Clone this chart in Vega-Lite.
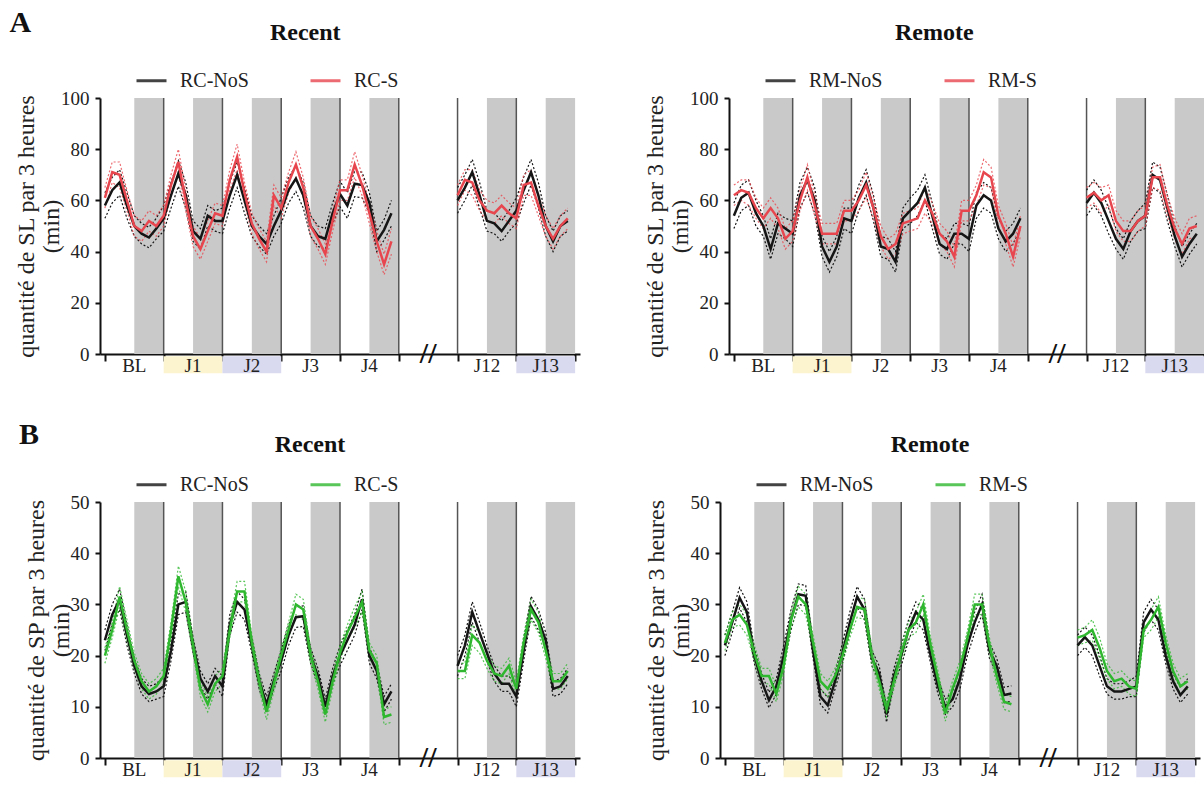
{
"$schema":"https://vega.github.io/schema/vega-lite/v6.json",
"padding":{"left":9,"top":8,"right":0,"bottom":0},
"config":{"font":"Liberation Serif","view":{"stroke":null},
"axis":{"domainColor":"#111","domainWidth":2,"tickColor":"#111","tickWidth":2,"labelFont":"Liberation Serif","labelFontSize":19,"labelColor":"#222","grid":false,"titleFont":"Liberation Serif","titleFontSize":24,"titleFontWeight":"normal","titleColor":"#222"},
"axisX":{"labels":false,"tickSize":7},
"axisY":{"tickSize":5,"labelPadding":6,"titlePadding":-3,"titleLineHeight":25},
"title":{"font":"Liberation Serif","fontWeight":"bold","color":"#111"},
"legend":{"direction":"horizontal","symbolType":"stroke","symbolSize":900,"symbolStrokeWidth":3,"labelFont":"Liberation Serif","labelFontSize":20,"labelColor":"#222","columnPadding":55,"labelOffset":12}},
"datasets":{
"days":[{"lab":"BL","a":0,"c":12,"b":24},{"lab":"J1","a":24,"c":36,"b":48},{"lab":"J2","a":48,"c":60,"b":72},{"lab":"J3","a":72,"c":84,"b":96},{"lab":"J4","a":96,"c":108,"b":120},{"lab":"//","a":120,"c":132,"b":144},{"lab":"J12","a":144,"c":156,"b":168},{"lab":"J13","a":168,"c":180,"b":192}],
"AR":[
{"k":1,"t":0,"a":58,"ae":5,"b":61,"be":4},{"k":1,"t":3,"a":64,"ae":5,"b":71,"be":4},{"k":1,"t":6,"a":67,"ae":5,"b":70,"be":5},{"k":1,"t":9,"a":58,"ae":5,"b":60,"be":4},{"k":1,"t":12,"a":50,"ae":4,"b":50,"be":4},{"k":1,"t":15,"a":47,"ae":4,"b":48,"be":4},{"k":1,"t":18,"a":45.5,"ae":4,"b":52,"be":4},{"k":1,"t":21,"a":49,"ae":4,"b":50,"be":4},
{"k":1,"t":24,"a":53,"ae":5,"b":54,"be":4},{"k":1,"t":27,"a":62,"ae":5,"b":66,"be":4},{"k":1,"t":30,"a":70.5,"ae":5,"b":75,"be":5},{"k":1,"t":33,"a":62,"ae":5,"b":60,"be":4},{"k":1,"t":36,"a":48,"ae":4,"b":46,"be":4},{"k":1,"t":39,"a":45,"ae":4,"b":41,"be":4},{"k":1,"t":42,"a":54,"ae":4,"b":48,"be":4},{"k":1,"t":45,"a":52,"ae":4,"b":55,"be":4},
{"k":1,"t":48,"a":52,"ae":5,"b":54,"be":4},{"k":1,"t":51,"a":62,"ae":5,"b":68,"be":4},{"k":1,"t":54,"a":70,"ae":5,"b":77,"be":5},{"k":1,"t":57,"a":60,"ae":5,"b":63,"be":4},{"k":1,"t":60,"a":50,"ae":4,"b":51,"be":4},{"k":1,"t":63,"a":46,"ae":4,"b":45,"be":4},{"k":1,"t":66,"a":43,"ae":4,"b":40,"be":4},{"k":1,"t":69,"a":50,"ae":4,"b":62,"be":4},
{"k":1,"t":72,"a":56,"ae":5,"b":57,"be":4},{"k":1,"t":75,"a":64,"ae":5,"b":67,"be":4},{"k":1,"t":78,"a":68.5,"ae":5,"b":74,"be":5},{"k":1,"t":81,"a":62,"ae":5,"b":65,"be":4},{"k":1,"t":84,"a":50,"ae":4,"b":50,"be":4},{"k":1,"t":87,"a":46,"ae":4,"b":45,"be":4},{"k":1,"t":90,"a":45,"ae":4,"b":39,"be":4},{"k":1,"t":93,"a":55,"ae":4,"b":52,"be":4},
{"k":1,"t":96,"a":62.5,"ae":5,"b":64,"be":4},{"k":1,"t":99,"a":58,"ae":5,"b":64,"be":4},{"k":1,"t":102,"a":66.5,"ae":5,"b":74,"be":5},{"k":1,"t":105,"a":66,"ae":5,"b":66,"be":4},{"k":1,"t":108,"a":59,"ae":4,"b":55,"be":4},{"k":1,"t":111,"a":44,"ae":4,"b":44,"be":4},{"k":1,"t":114,"a":48.5,"ae":4,"b":35,"be":4},{"k":1,"t":117,"a":55,"ae":5,"b":44,"be":5},
{"k":2,"t":144,"a":60,"ae":5,"b":62,"be":4},{"k":2,"t":147,"a":65,"ae":5,"b":68,"be":4},{"k":2,"t":150,"a":71,"ae":5,"b":67,"be":5},{"k":2,"t":153,"a":62,"ae":5,"b":60,"be":4},{"k":2,"t":156,"a":52,"ae":4,"b":56,"be":4},{"k":2,"t":159,"a":51,"ae":4,"b":55,"be":4},{"k":2,"t":162,"a":48,"ae":4,"b":58,"be":4},{"k":2,"t":165,"a":52,"ae":4,"b":55,"be":4},
{"k":2,"t":168,"a":56,"ae":5,"b":53,"be":4},{"k":2,"t":171,"a":64,"ae":5,"b":66,"be":4},{"k":2,"t":174,"a":71,"ae":5,"b":67,"be":5},{"k":2,"t":177,"a":62,"ae":5,"b":58,"be":4},{"k":2,"t":180,"a":50,"ae":4,"b":50,"be":4},{"k":2,"t":183,"a":44,"ae":4,"b":45,"be":4},{"k":2,"t":186,"a":50,"ae":4,"b":50,"be":4},{"k":2,"t":189,"a":52,"ae":4,"b":53,"be":4}],
"AM":[
{"k":1,"t":0,"a":54,"ae":5,"b":62,"be":4},{"k":1,"t":3,"a":61,"ae":5,"b":64,"be":4},{"k":1,"t":6,"a":63,"ae":5,"b":63,"be":5},{"k":1,"t":9,"a":55,"ae":5,"b":57,"be":4},{"k":1,"t":12,"a":50,"ae":4,"b":53,"be":4},{"k":1,"t":15,"a":41,"ae":4,"b":57,"be":4},{"k":1,"t":18,"a":51,"ae":4,"b":53,"be":4},{"k":1,"t":21,"a":49,"ae":4,"b":45,"be":4},
{"k":1,"t":24,"a":47,"ae":5,"b":48,"be":4},{"k":1,"t":27,"a":62,"ae":5,"b":60,"be":4},{"k":1,"t":30,"a":68,"ae":5,"b":69,"be":5},{"k":1,"t":33,"a":60,"ae":5,"b":58,"be":4},{"k":1,"t":36,"a":42,"ae":4,"b":47,"be":4},{"k":1,"t":39,"a":36,"ae":4,"b":47,"be":4},{"k":1,"t":42,"a":42,"ae":4,"b":47,"be":4},{"k":1,"t":45,"a":53,"ae":4,"b":56,"be":4},
{"k":1,"t":48,"a":52,"ae":5,"b":56,"be":4},{"k":1,"t":51,"a":61,"ae":5,"b":60,"be":4},{"k":1,"t":54,"a":67,"ae":5,"b":66,"be":5},{"k":1,"t":57,"a":57,"ae":5,"b":57,"be":4},{"k":1,"t":60,"a":42,"ae":4,"b":46,"be":4},{"k":1,"t":63,"a":41,"ae":4,"b":41,"be":4},{"k":1,"t":66,"a":36,"ae":4,"b":43,"be":4},{"k":1,"t":69,"a":53,"ae":4,"b":51,"be":4},
{"k":1,"t":72,"a":56,"ae":5,"b":52,"be":4},{"k":1,"t":75,"a":59,"ae":5,"b":53,"be":4},{"k":1,"t":78,"a":65,"ae":5,"b":60,"be":5},{"k":1,"t":81,"a":54,"ae":5,"b":55,"be":4},{"k":1,"t":84,"a":43,"ae":4,"b":47,"be":4},{"k":1,"t":87,"a":41,"ae":4,"b":44,"be":4},{"k":1,"t":90,"a":47,"ae":4,"b":38,"be":4},{"k":1,"t":93,"a":47,"ae":4,"b":56,"be":4},
{"k":1,"t":96,"a":45,"ae":5,"b":56,"be":4},{"k":1,"t":99,"a":58,"ae":5,"b":62,"be":4},{"k":1,"t":102,"a":62,"ae":5,"b":71,"be":5},{"k":1,"t":105,"a":60,"ae":5,"b":69,"be":4},{"k":1,"t":108,"a":49,"ae":4,"b":54,"be":4},{"k":1,"t":111,"a":44,"ae":4,"b":47,"be":4},{"k":1,"t":114,"a":47,"ae":4,"b":38,"be":4},{"k":1,"t":117,"a":53,"ae":4,"b":50,"be":4},
{"k":2,"t":144,"a":59,"ae":5,"b":61,"be":4},{"k":2,"t":147,"a":63,"ae":5,"b":63,"be":4},{"k":2,"t":150,"a":59,"ae":5,"b":60,"be":5},{"k":2,"t":153,"a":52,"ae":5,"b":62,"be":4},{"k":2,"t":156,"a":45,"ae":4,"b":52,"be":4},{"k":2,"t":159,"a":41,"ae":4,"b":48,"be":4},{"k":2,"t":162,"a":48,"ae":4,"b":48,"be":4},{"k":2,"t":165,"a":52,"ae":4,"b":52,"be":4},
{"k":2,"t":168,"a":54,"ae":5,"b":54,"be":4},{"k":2,"t":171,"a":70,"ae":5,"b":69,"be":4},{"k":2,"t":174,"a":68,"ae":5,"b":69,"be":5},{"k":2,"t":177,"a":57,"ae":5,"b":58,"be":4},{"k":2,"t":180,"a":46,"ae":4,"b":49,"be":4},{"k":2,"t":183,"a":38,"ae":4,"b":43,"be":4},{"k":2,"t":186,"a":43,"ae":4,"b":49,"be":4},{"k":2,"t":189,"a":47,"ae":4,"b":50,"be":4}],
"BR":[
{"k":1,"t":0,"a":23,"ae":2,"b":20,"be":1.5},{"k":1,"t":3,"a":28,"ae":2,"b":25,"be":1.5},{"k":1,"t":6,"a":31,"ae":2,"b":31.5,"be":2},{"k":1,"t":9,"a":24,"ae":2,"b":25,"be":2},{"k":1,"t":12,"a":18,"ae":1.5,"b":19,"be":1.5},{"k":1,"t":15,"a":14,"ae":1.5,"b":15,"be":1.5},{"k":1,"t":18,"a":12.5,"ae":1.5,"b":13,"be":1.5},{"k":1,"t":21,"a":13,"ae":1.5,"b":14,"be":1.5},
{"k":1,"t":24,"a":14,"ae":2,"b":16,"be":1.5},{"k":1,"t":27,"a":21,"ae":2,"b":25,"be":1.5},{"k":1,"t":30,"a":30,"ae":2,"b":35.5,"be":2},{"k":1,"t":33,"a":30.5,"ae":2,"b":30.5,"be":2},{"k":1,"t":36,"a":22,"ae":1.5,"b":22,"be":1.5},{"k":1,"t":39,"a":15.5,"ae":1.5,"b":13.5,"be":1.5},{"k":1,"t":42,"a":13,"ae":1.5,"b":10.5,"be":1.5},{"k":1,"t":45,"a":16,"ae":1.5,"b":14.5,"be":1.5},
{"k":1,"t":48,"a":14,"ae":2,"b":16,"be":1.5},{"k":1,"t":51,"a":26,"ae":2,"b":25,"be":1.5},{"k":1,"t":54,"a":30.5,"ae":2,"b":32.5,"be":2},{"k":1,"t":57,"a":29,"ae":2,"b":32.5,"be":2},{"k":1,"t":60,"a":22,"ae":1.5,"b":22.5,"be":1.5},{"k":1,"t":63,"a":15,"ae":1.5,"b":15,"be":1.5},{"k":1,"t":66,"a":10.5,"ae":1.5,"b":9,"be":1.5},{"k":1,"t":69,"a":15,"ae":1.5,"b":14.5,"be":1.5},
{"k":1,"t":72,"a":19,"ae":2,"b":20,"be":1.5},{"k":1,"t":75,"a":24,"ae":2,"b":25,"be":1.5},{"k":1,"t":78,"a":27.5,"ae":2,"b":30,"be":2},{"k":1,"t":81,"a":27.7,"ae":2,"b":29,"be":2},{"k":1,"t":84,"a":20,"ae":1.5,"b":20,"be":1.5},{"k":1,"t":87,"a":16,"ae":1.5,"b":15,"be":1.5},{"k":1,"t":90,"a":10,"ae":1.5,"b":8.5,"be":1.5},{"k":1,"t":93,"a":16,"ae":1.5,"b":15,"be":1.5},
{"k":1,"t":96,"a":20,"ae":2,"b":20.5,"be":1.5},{"k":1,"t":99,"a":23,"ae":2,"b":24.5,"be":1.5},{"k":1,"t":102,"a":26,"ae":2,"b":27.5,"be":2},{"k":1,"t":105,"a":31,"ae":2,"b":30.5,"be":2},{"k":1,"t":108,"a":20,"ae":1.5,"b":21,"be":1.5},{"k":1,"t":111,"a":17,"ae":1.5,"b":18.5,"be":1.5},{"k":1,"t":114,"a":10.5,"ae":1.5,"b":8,"be":1.5},{"k":1,"t":117,"a":13,"ae":1.5,"b":8.5,"be":1.5},
{"k":2,"t":144,"a":18,"ae":2,"b":17,"be":1.5},{"k":2,"t":147,"a":22,"ae":2,"b":17,"be":1.5},{"k":2,"t":150,"a":28.5,"ae":2,"b":24,"be":2},{"k":2,"t":153,"a":24.5,"ae":2,"b":22.5,"be":2},{"k":2,"t":156,"a":20.5,"ae":1.5,"b":19,"be":1.5},{"k":2,"t":159,"a":16.5,"ae":1.5,"b":16.5,"be":1.5},{"k":2,"t":162,"a":14.5,"ae":1.5,"b":16,"be":1.5},{"k":2,"t":165,"a":14.5,"ae":1.5,"b":18,"be":1.5},
{"k":2,"t":168,"a":12,"ae":2,"b":13.5,"be":1.5},{"k":2,"t":171,"a":21,"ae":2,"b":22.5,"be":1.5},{"k":2,"t":174,"a":29.6,"ae":2,"b":29,"be":2},{"k":2,"t":177,"a":27,"ae":2,"b":26.5,"be":2},{"k":2,"t":180,"a":23,"ae":1.5,"b":21,"be":1.5},{"k":2,"t":183,"a":13.5,"ae":1.5,"b":15,"be":1.5},{"k":2,"t":186,"a":14,"ae":1.5,"b":15,"be":1.5},{"k":2,"t":189,"a":16,"ae":1.5,"b":17,"be":1.5}],
"BM":[
{"k":1,"t":0,"a":22,"ae":2,"b":22.5,"be":1.5},{"k":1,"t":3,"a":26.5,"ae":2,"b":27,"be":1.5},{"k":1,"t":6,"a":31.3,"ae":2,"b":28,"be":2},{"k":1,"t":9,"a":28.5,"ae":2,"b":26,"be":2},{"k":1,"t":12,"a":20,"ae":1.5,"b":20.5,"be":1.5},{"k":1,"t":15,"a":15,"ae":1.5,"b":16,"be":1.5},{"k":1,"t":18,"a":11.3,"ae":1.5,"b":16,"be":1.5},{"k":1,"t":21,"a":14,"ae":1.5,"b":12.5,"be":1.5},
{"k":1,"t":24,"a":20,"ae":2,"b":18,"be":1.5},{"k":1,"t":27,"a":27,"ae":2,"b":27,"be":1.5},{"k":1,"t":30,"a":32,"ae":2,"b":31.5,"be":2},{"k":1,"t":33,"a":31.7,"ae":2,"b":30,"be":2},{"k":1,"t":36,"a":21,"ae":1.5,"b":22.5,"be":1.5},{"k":1,"t":39,"a":12,"ae":1.5,"b":15,"be":1.5},{"k":1,"t":42,"a":10.3,"ae":1.5,"b":13.5,"be":1.5},{"k":1,"t":45,"a":15,"ae":1.5,"b":16,"be":1.5},
{"k":1,"t":48,"a":20.5,"ae":2,"b":20,"be":1.5},{"k":1,"t":51,"a":26.5,"ae":2,"b":25,"be":1.5},{"k":1,"t":54,"a":31.5,"ae":2,"b":29.5,"be":2},{"k":1,"t":57,"a":29,"ae":2,"b":29,"be":2},{"k":1,"t":60,"a":19.5,"ae":1.5,"b":20,"be":1.5},{"k":1,"t":63,"a":16.5,"ae":1.5,"b":15,"be":1.5},{"k":1,"t":66,"a":8.5,"ae":1.5,"b":9.5,"be":1.5},{"k":1,"t":69,"a":16,"ae":1.5,"b":15,"be":1.5},
{"k":1,"t":72,"a":20,"ae":2,"b":20.5,"be":1.5},{"k":1,"t":75,"a":25,"ae":2,"b":25,"be":1.5},{"k":1,"t":78,"a":28.5,"ae":2,"b":26.5,"be":2},{"k":1,"t":81,"a":27,"ae":2,"b":30,"be":2},{"k":1,"t":84,"a":20,"ae":1.5,"b":22,"be":1.5},{"k":1,"t":87,"a":14,"ae":1.5,"b":15.5,"be":1.5},{"k":1,"t":90,"a":10,"ae":1.5,"b":8.7,"be":1.5},{"k":1,"t":93,"a":11.5,"ae":1.5,"b":13.6,"be":1.5},
{"k":1,"t":96,"a":15.5,"ae":2,"b":17.5,"be":1.5},{"k":1,"t":99,"a":22,"ae":2,"b":23.3,"be":1.5},{"k":1,"t":102,"a":26.5,"ae":2,"b":30,"be":2},{"k":1,"t":105,"a":30,"ae":2,"b":30,"be":2},{"k":1,"t":108,"a":21,"ae":1.5,"b":22,"be":1.5},{"k":1,"t":111,"a":18,"ae":1.5,"b":16,"be":1.5},{"k":1,"t":114,"a":12.3,"ae":1.5,"b":11,"be":1.5},{"k":1,"t":117,"a":12.6,"ae":1.5,"b":10.5,"be":1.5},
{"k":2,"t":144,"a":22,"ae":2,"b":23.5,"be":1.5},{"k":2,"t":147,"a":23.6,"ae":2,"b":24,"be":1.5},{"k":2,"t":150,"a":22,"ae":2,"b":25,"be":2},{"k":2,"t":153,"a":18,"ae":2,"b":21.5,"be":2},{"k":2,"t":156,"a":14,"ae":1.5,"b":17,"be":1.5},{"k":2,"t":159,"a":13,"ae":1.5,"b":15,"be":1.5},{"k":2,"t":162,"a":13,"ae":1.5,"b":15.5,"be":1.5},{"k":2,"t":165,"a":13.5,"ae":1.5,"b":14,"be":1.5},
{"k":2,"t":168,"a":14,"ae":2,"b":13.5,"be":1.5},{"k":2,"t":171,"a":26.5,"ae":2,"b":25,"be":1.5},{"k":2,"t":174,"a":29,"ae":2,"b":27,"be":2},{"k":2,"t":177,"a":27,"ae":2,"b":29.5,"be":2},{"k":2,"t":180,"a":20,"ae":1.5,"b":22.5,"be":1.5},{"k":2,"t":183,"a":15,"ae":1.5,"b":17,"be":1.5},{"k":2,"t":186,"a":12.3,"ae":1.5,"b":14,"be":1.5},{"k":2,"t":189,"a":14,"ae":1.5,"b":15,"be":1.5}]
},
"spacing":44,
"resolve":{"scale":{"color":"independent","x":"independent","y":"independent"},"legend":{"color":"independent"},"axis":{"x":"independent","y":"independent"}},
"vconcat":[
{"title":{"text":"A","anchor":"start","fontSize":30,"offset":-17,"dx":-5},
"spacing":63,
"resolve":{"scale":{"color":"independent","x":"independent","y":"independent"},"legend":{"color":"independent"},"axis":{"x":"independent","y":"independent"}},
"hconcat":[
{"width":480,"height":256,"title":{"text":"Recent","fontSize":24,"offset":19,"frame":"bounds","dx":8},
"layer":[
{"data":{"name":"days"},"transform":[{"filter":"datum.lab != '//'"}],"mark":{"type":"rect","color":"#c9c9c9"},"encoding":{"x":{"field":"c","type":"quantitative","scale":{"domain":[-2,194],"nice":false,"zero":false},"axis":{"title":null,"values":[0,24,48,72,96,120,144,168,192]}},"x2":{"field":"b"},"y":{"datum":0,"type":"quantitative","scale":{"domain":[0,100],"nice":false},"axis":{"title":["quantité de SL par 3 heures","(min)"],"values":[0,20,40,60,80,100]}},"y2":{"datum":100}}},
{"data":{"name":"days"},"transform":[{"filter":"datum.a > 0"}],"mark":{"type":"rule","color":"#555","strokeWidth":1.5},"encoding":{"x":{"field":"a","type":"quantitative"},"y":{"datum":0,"type":"quantitative"},"y2":{"datum":100}}},
{"data":{"name":"days"},"transform":[{"filter":"datum.lab == 'J1'"}],"mark":{"type":"rect","color":"#fcf4cf"},"encoding":{"x":{"field":"a","type":"quantitative"},"x2":{"field":"b"},"y":{"datum":-0.9,"type":"quantitative"},"y2":{"datum":-7.5}}},
{"data":{"name":"days"},"transform":[{"filter":"datum.lab == 'J2' || datum.lab == 'J13'"}],"mark":{"type":"rect","color":"#d9d9f0"},"encoding":{"x":{"field":"a","type":"quantitative"},"x2":{"field":"b"},"y":{"datum":-0.9,"type":"quantitative"},"y2":{"datum":-7.5}}},
{"data":{"name":"days"},"transform":[{"filter":"datum.lab != '//'"}],"mark":{"type":"text","font":"Liberation Serif","fontSize":19,"color":"#222","baseline":"middle"},"encoding":{"x":{"field":"c","type":"quantitative"},"y":{"datum":-4.6,"type":"quantitative"},"text":{"field":"lab"}}},
{"data":{"name":"days"},"transform":[{"filter":"datum.lab == '//'"}],"mark":{"type":"text","font":"Liberation Serif","fontSize":30,"fontWeight":"bold","color":"#111","baseline":"middle"},"encoding":{"x":{"field":"c","type":"quantitative"},"y":{"datum":0,"type":"quantitative"},"text":{"field":"lab"}}},
{"data":{"name":"AR"},"mark":{"type":"errorband","borders":{"strokeDash":[2,2],"strokeWidth":1.2},"band":{"opacity":0}},"encoding":{"x":{"field":"t","type":"quantitative","axis":{"title":null}},"y":{"field":"a","type":"quantitative","axis":{"title":["quantité de SL par 3 heures","(min)"]}},"yError":{"field":"ae"},"detail":{"field":"k"},"color":{"datum":"RC-NoS","scale":{"domain":["RC-NoS","RC-S"],"range":["#151515","#e8464e"]},"legend":{"orient":"none","legendX":35,"legendY":-34,"title":null}}}},
{"data":{"name":"AR"},"mark":{"type":"errorband","borders":{"strokeDash":[2,2],"strokeWidth":1.2,"opacity":0.8},"band":{"opacity":0}},"encoding":{"x":{"field":"t","type":"quantitative","axis":{"title":null}},"y":{"field":"b","type":"quantitative","axis":{"title":["quantité de SL par 3 heures","(min)"]}},"yError":{"field":"be"},"detail":{"field":"k"},"color":{"datum":"RC-S"}}},
{"data":{"name":"AR"},"mark":{"type":"line","strokeWidth":2.5},"encoding":{"x":{"field":"t","type":"quantitative","axis":{"title":null}},"y":{"field":"a","type":"quantitative","axis":{"title":["quantité de SL par 3 heures","(min)"]}},"detail":{"field":"k"},"color":{"datum":"RC-NoS"}}},
{"data":{"name":"AR"},"mark":{"type":"line","strokeWidth":2.5},"encoding":{"x":{"field":"t","type":"quantitative","axis":{"title":null}},"y":{"field":"b","type":"quantitative","axis":{"title":["quantité de SL par 3 heures","(min)"]}},"detail":{"field":"k"},"color":{"datum":"RC-S"}}}
]},
{"width":480,"height":256,"title":{"text":"Remote","fontSize":24,"offset":19,"frame":"bounds","dx":8},
"layer":[
{"data":{"name":"days"},"transform":[{"filter":"datum.lab != '//'"}],"mark":{"type":"rect","color":"#c9c9c9"},"encoding":{"x":{"field":"c","type":"quantitative","scale":{"domain":[-2,194],"nice":false,"zero":false},"axis":{"title":null,"values":[0,24,48,72,96,120,144,168,192]}},"x2":{"field":"b"},"y":{"datum":0,"type":"quantitative","scale":{"domain":[0,100],"nice":false},"axis":{"title":["quantité de SL par 3 heures","(min)"],"values":[0,20,40,60,80,100]}},"y2":{"datum":100}}},
{"data":{"name":"days"},"transform":[{"filter":"datum.a > 0"}],"mark":{"type":"rule","color":"#555","strokeWidth":1.5},"encoding":{"x":{"field":"a","type":"quantitative"},"y":{"datum":0,"type":"quantitative"},"y2":{"datum":100}}},
{"data":{"name":"days"},"transform":[{"filter":"datum.lab == 'J1'"}],"mark":{"type":"rect","color":"#fcf4cf"},"encoding":{"x":{"field":"a","type":"quantitative"},"x2":{"field":"b"},"y":{"datum":-0.9,"type":"quantitative"},"y2":{"datum":-7.5}}},
{"data":{"name":"days"},"transform":[{"filter":"datum.lab == 'J13'"}],"mark":{"type":"rect","color":"#d9d9f0"},"encoding":{"x":{"field":"a","type":"quantitative"},"x2":{"field":"b"},"y":{"datum":-0.9,"type":"quantitative"},"y2":{"datum":-7.5}}},
{"data":{"name":"days"},"transform":[{"filter":"datum.lab != '//'"}],"mark":{"type":"text","font":"Liberation Serif","fontSize":19,"color":"#222","baseline":"middle"},"encoding":{"x":{"field":"c","type":"quantitative"},"y":{"datum":-4.6,"type":"quantitative"},"text":{"field":"lab"}}},
{"data":{"name":"days"},"transform":[{"filter":"datum.lab == '//'"}],"mark":{"type":"text","font":"Liberation Serif","fontSize":30,"fontWeight":"bold","color":"#111","baseline":"middle"},"encoding":{"x":{"field":"c","type":"quantitative"},"y":{"datum":0,"type":"quantitative"},"text":{"field":"lab"}}},
{"data":{"name":"AM"},"mark":{"type":"errorband","borders":{"strokeDash":[2,2],"strokeWidth":1.2},"band":{"opacity":0}},"encoding":{"x":{"field":"t","type":"quantitative","axis":{"title":null}},"y":{"field":"a","type":"quantitative","axis":{"title":["quantité de SL par 3 heures","(min)"]}},"yError":{"field":"ae"},"detail":{"field":"k"},"color":{"datum":"RM-NoS","scale":{"domain":["RM-NoS","RM-S"],"range":["#151515","#e8464e"]},"legend":{"orient":"none","legendX":35,"legendY":-34,"title":null}}}},
{"data":{"name":"AM"},"mark":{"type":"errorband","borders":{"strokeDash":[2,2],"strokeWidth":1.2,"opacity":0.8},"band":{"opacity":0}},"encoding":{"x":{"field":"t","type":"quantitative","axis":{"title":null}},"y":{"field":"b","type":"quantitative","axis":{"title":["quantité de SL par 3 heures","(min)"]}},"yError":{"field":"be"},"detail":{"field":"k"},"color":{"datum":"RM-S"}}},
{"data":{"name":"AM"},"mark":{"type":"line","strokeWidth":2.5},"encoding":{"x":{"field":"t","type":"quantitative","axis":{"title":null}},"y":{"field":"a","type":"quantitative","axis":{"title":["quantité de SL par 3 heures","(min)"]}},"detail":{"field":"k"},"color":{"datum":"RM-NoS"}}},
{"data":{"name":"AM"},"mark":{"type":"line","strokeWidth":2.5},"encoding":{"x":{"field":"t","type":"quantitative","axis":{"title":null}},"y":{"field":"b","type":"quantitative","axis":{"title":["quantité de SL par 3 heures","(min)"]}},"detail":{"field":"k"},"color":{"datum":"RM-S"}}}
]}
]},
{"title":{"text":"B","anchor":"start","fontSize":30,"offset":-17,"dx":-5},
"spacing":63,
"resolve":{"scale":{"color":"independent","x":"independent","y":"independent"},"legend":{"color":"independent"},"axis":{"x":"independent","y":"independent"}},
"hconcat":[
{"width":480,"height":256,"title":{"text":"Recent","fontSize":24,"offset":11,"frame":"bounds","dx":8},
"layer":[
{"data":{"name":"days"},"transform":[{"filter":"datum.lab != '//'"}],"mark":{"type":"rect","color":"#c9c9c9"},"encoding":{"x":{"field":"c","type":"quantitative","scale":{"domain":[-2,194],"nice":false,"zero":false},"axis":{"title":null,"values":[0,24,48,72,96,120,144,168,192]}},"x2":{"field":"b"},"y":{"datum":0,"type":"quantitative","scale":{"domain":[0,50],"nice":false},"axis":{"title":["quantité de SP par 3 heures","(min)"],"values":[0,10,20,30,40,50]}},"y2":{"datum":50}}},
{"data":{"name":"days"},"transform":[{"filter":"datum.a > 0"}],"mark":{"type":"rule","color":"#555","strokeWidth":1.5},"encoding":{"x":{"field":"a","type":"quantitative"},"y":{"datum":0,"type":"quantitative"},"y2":{"datum":50}}},
{"data":{"name":"days"},"transform":[{"filter":"datum.lab == 'J1'"}],"mark":{"type":"rect","color":"#fcf4cf"},"encoding":{"x":{"field":"a","type":"quantitative"},"x2":{"field":"b"},"y":{"datum":-0.45,"type":"quantitative"},"y2":{"datum":-3.75}}},
{"data":{"name":"days"},"transform":[{"filter":"datum.lab == 'J2' || datum.lab == 'J13'"}],"mark":{"type":"rect","color":"#d9d9f0"},"encoding":{"x":{"field":"a","type":"quantitative"},"x2":{"field":"b"},"y":{"datum":-0.45,"type":"quantitative"},"y2":{"datum":-3.75}}},
{"data":{"name":"days"},"transform":[{"filter":"datum.lab != '//'"}],"mark":{"type":"text","font":"Liberation Serif","fontSize":19,"color":"#222","baseline":"middle"},"encoding":{"x":{"field":"c","type":"quantitative"},"y":{"datum":-2.3,"type":"quantitative"},"text":{"field":"lab"}}},
{"data":{"name":"days"},"transform":[{"filter":"datum.lab == '//'"}],"mark":{"type":"text","font":"Liberation Serif","fontSize":30,"fontWeight":"bold","color":"#111","baseline":"middle"},"encoding":{"x":{"field":"c","type":"quantitative"},"y":{"datum":0,"type":"quantitative"},"text":{"field":"lab"}}},
{"data":{"name":"BR"},"mark":{"type":"errorband","borders":{"strokeDash":[2,2],"strokeWidth":1.2},"band":{"opacity":0}},"encoding":{"x":{"field":"t","type":"quantitative","axis":{"title":null}},"y":{"field":"a","type":"quantitative","axis":{"title":["quantité de SP par 3 heures","(min)"]}},"yError":{"field":"ae"},"detail":{"field":"k"},"color":{"datum":"RC-NoS","scale":{"domain":["RC-NoS","RC-S"],"range":["#151515","#2fb82f"]},"legend":{"orient":"none","legendX":35,"legendY":-34,"title":null}}}},
{"data":{"name":"BR"},"mark":{"type":"errorband","borders":{"strokeDash":[2,2],"strokeWidth":1.2,"opacity":0.8},"band":{"opacity":0}},"encoding":{"x":{"field":"t","type":"quantitative","axis":{"title":null}},"y":{"field":"b","type":"quantitative","axis":{"title":["quantité de SP par 3 heures","(min)"]}},"yError":{"field":"be"},"detail":{"field":"k"},"color":{"datum":"RC-S"}}},
{"data":{"name":"BR"},"mark":{"type":"line","strokeWidth":2.5},"encoding":{"x":{"field":"t","type":"quantitative","axis":{"title":null}},"y":{"field":"a","type":"quantitative","axis":{"title":["quantité de SP par 3 heures","(min)"]}},"detail":{"field":"k"},"color":{"datum":"RC-NoS"}}},
{"data":{"name":"BR"},"mark":{"type":"line","strokeWidth":2.5},"encoding":{"x":{"field":"t","type":"quantitative","axis":{"title":null}},"y":{"field":"b","type":"quantitative","axis":{"title":["quantité de SP par 3 heures","(min)"]}},"detail":{"field":"k"},"color":{"datum":"RC-S"}}}
]},
{"width":480,"height":256,"title":{"text":"Remote","fontSize":24,"offset":11,"frame":"bounds","dx":8},
"layer":[
{"data":{"name":"days"},"transform":[{"filter":"datum.lab != '//'"}],"mark":{"type":"rect","color":"#c9c9c9"},"encoding":{"x":{"field":"c","type":"quantitative","scale":{"domain":[-2,194],"nice":false,"zero":false},"axis":{"title":null,"values":[0,24,48,72,96,120,144,168,192]}},"x2":{"field":"b"},"y":{"datum":0,"type":"quantitative","scale":{"domain":[0,50],"nice":false},"axis":{"title":["quantité de SP par 3 heures","(min)"],"values":[0,10,20,30,40,50]}},"y2":{"datum":50}}},
{"data":{"name":"days"},"transform":[{"filter":"datum.a > 0"}],"mark":{"type":"rule","color":"#555","strokeWidth":1.5},"encoding":{"x":{"field":"a","type":"quantitative"},"y":{"datum":0,"type":"quantitative"},"y2":{"datum":50}}},
{"data":{"name":"days"},"transform":[{"filter":"datum.lab == 'J1'"}],"mark":{"type":"rect","color":"#fcf4cf"},"encoding":{"x":{"field":"a","type":"quantitative"},"x2":{"field":"b"},"y":{"datum":-0.45,"type":"quantitative"},"y2":{"datum":-3.75}}},
{"data":{"name":"days"},"transform":[{"filter":"datum.lab == 'J13'"}],"mark":{"type":"rect","color":"#d9d9f0"},"encoding":{"x":{"field":"a","type":"quantitative"},"x2":{"field":"b"},"y":{"datum":-0.45,"type":"quantitative"},"y2":{"datum":-3.75}}},
{"data":{"name":"days"},"transform":[{"filter":"datum.lab != '//'"}],"mark":{"type":"text","font":"Liberation Serif","fontSize":19,"color":"#222","baseline":"middle"},"encoding":{"x":{"field":"c","type":"quantitative"},"y":{"datum":-2.3,"type":"quantitative"},"text":{"field":"lab"}}},
{"data":{"name":"days"},"transform":[{"filter":"datum.lab == '//'"}],"mark":{"type":"text","font":"Liberation Serif","fontSize":30,"fontWeight":"bold","color":"#111","baseline":"middle"},"encoding":{"x":{"field":"c","type":"quantitative"},"y":{"datum":0,"type":"quantitative"},"text":{"field":"lab"}}},
{"data":{"name":"BM"},"mark":{"type":"errorband","borders":{"strokeDash":[2,2],"strokeWidth":1.2},"band":{"opacity":0}},"encoding":{"x":{"field":"t","type":"quantitative","axis":{"title":null}},"y":{"field":"a","type":"quantitative","axis":{"title":["quantité de SP par 3 heures","(min)"]}},"yError":{"field":"ae"},"detail":{"field":"k"},"color":{"datum":"RM-NoS","scale":{"domain":["RM-NoS","RM-S"],"range":["#151515","#2fb82f"]},"legend":{"orient":"none","legendX":35,"legendY":-34,"title":null}}}},
{"data":{"name":"BM"},"mark":{"type":"errorband","borders":{"strokeDash":[2,2],"strokeWidth":1.2,"opacity":0.8},"band":{"opacity":0}},"encoding":{"x":{"field":"t","type":"quantitative","axis":{"title":null}},"y":{"field":"b","type":"quantitative","axis":{"title":["quantité de SP par 3 heures","(min)"]}},"yError":{"field":"be"},"detail":{"field":"k"},"color":{"datum":"RM-S"}}},
{"data":{"name":"BM"},"mark":{"type":"line","strokeWidth":2.5},"encoding":{"x":{"field":"t","type":"quantitative","axis":{"title":null}},"y":{"field":"a","type":"quantitative","axis":{"title":["quantité de SP par 3 heures","(min)"]}},"detail":{"field":"k"},"color":{"datum":"RM-NoS"}}},
{"data":{"name":"BM"},"mark":{"type":"line","strokeWidth":2.5},"encoding":{"x":{"field":"t","type":"quantitative","axis":{"title":null}},"y":{"field":"b","type":"quantitative","axis":{"title":["quantité de SP par 3 heures","(min)"]}},"detail":{"field":"k"},"color":{"datum":"RM-S"}}}
]}
]}
]
}
